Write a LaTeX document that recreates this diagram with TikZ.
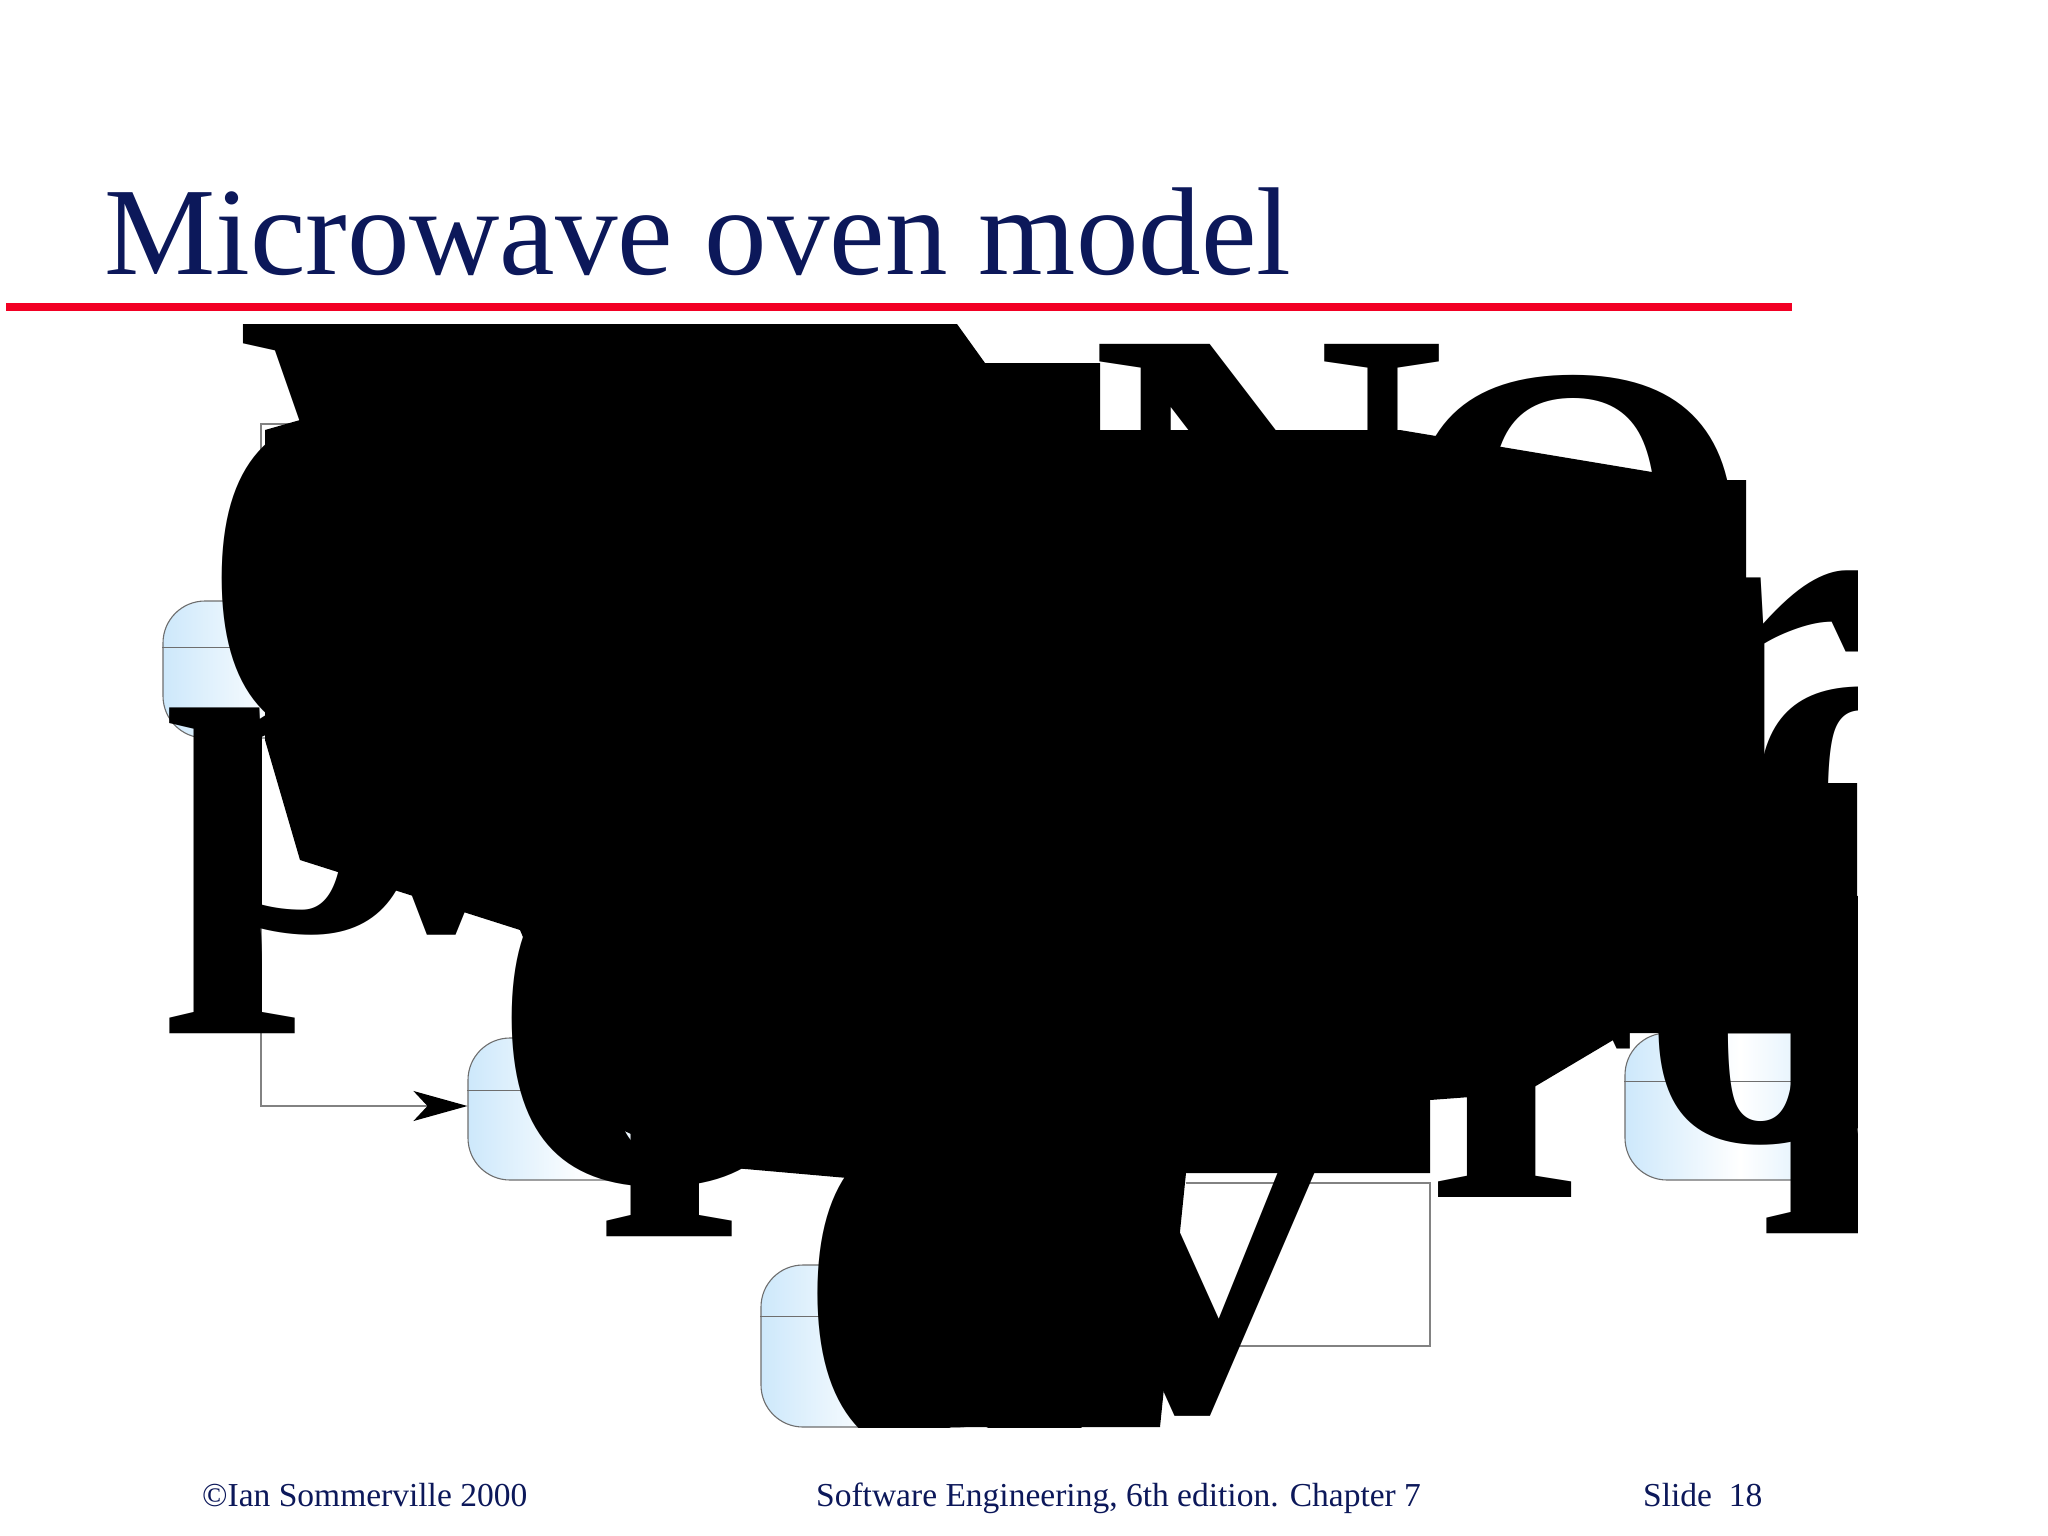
\documentclass[tikz,border=0pt]{standalone}
\usepackage{fontspec}
\setmainfont{Liberation Serif}
\usetikzlibrary{arrows.meta}
\definecolor{navy}{RGB}{12,24,90}
\definecolor{slidered}{RGB}{242,0,36}
\definecolor{stateblue}{RGB}{205,232,251}
\definecolor{edgegrey}{RGB}{110,110,110}
\definecolor{conngrey}{RGB}{130,130,130}
\tikzset{
  statebox/.style={draw=edgegrey, line width=1.1pt, rounded corners=42pt, left color=stateblue, right color=stateblue, middle color=white, inner sep=0pt},
  divider/.style={draw=edgegrey, line width=1.1pt},
  conn/.style={draw=conngrey, line width=1.5pt},
  tipped/.style={-{Stealth[length=54pt,width=30pt,inset=14pt,color=black]}},
  glyph/.style={anchor=base west, inner sep=0pt, text=black},
  titletext/.style={anchor=base west, inner sep=0pt, text=navy, font=\fontsize{125}{125}\selectfont},
  foottext/.style={anchor=base west, inner sep=0pt, text=navy, font=\fontsize{33.5}{33.5}\selectfont},
}
\newcommand\hugeg[1]{\fontsize{#1}{#1}\selectfont\bfseries}
\begin{document}
\begin{tikzpicture}[x=1pt,y=-1pt]
\useasboundingbox (0,0) rectangle (2048,1536);
\fill[white] (0,0) rectangle (2048,1536);
% states
\node[statebox, minimum width=240pt, minimum height=137pt] (waiting) at (283,669.5) {};
\node[statebox, minimum width=240pt, minimum height=150pt] (fullpower) at (695,424) {};
\node[statebox, minimum width=240pt, minimum height=142pt] (halfpower) at (588,1109) {};
\node[statebox, minimum width=240pt, minimum height=150pt] (settime) at (1465,715) {};
\node[statebox, minimum width=240pt, minimum height=162pt] (disabled) at (881,1346) {};
\node[statebox, minimum width=230pt, minimum height=147pt] (operation) at (1740,1106.5) {};
\foreach \s/\d in {waiting/47,fullpower/50,halfpower/53,settime/50,disabled/52,operation/49}{
  \draw[divider] ([yshift=-\d pt]\s.north west) -- ([yshift=-\d pt]\s.north east);
}
% connectors
\draw[conn, tipped] ([xshift=-22pt]waiting.north) |- (fullpower.west);
\draw[conn, tipped] ([xshift=-22pt]waiting.south) |- ([yshift=3pt]halfpower.west);
\coordinate (c3) at (1186,1183);
\draw[conn, tipped] (c3) -- ++(244,0) |- (disabled.east);
% oversized glyphs, clipped to the diagram frame
\begin{scope}
\clip (162,324) rectangle (1857,1427);
\fill[black] (300,324) -- (957,324) -- (985,363) -- (1100,363) -- (1100,430) -- (1400,430)
  -- (1700,480) -- (1746,480) -- (1746,783) -- (1857,783) -- (1857,1033) -- (1625,1033)
  -- (1524,1093) -- (1430,1100) -- (1430,1173) -- (1186,1173) -- (1160,1427) -- (930,1427)
  -- (900,1300) -- (870,1180) -- (700,1165) -- (600,1120) -- (520,930) -- (300,860)
  -- (265,740) -- (265,430) -- (300,420) -- cycle;
\node[glyph, font=\hugeg{560}] (g1) at (235,690) {W};
\node[glyph, font=\hugeg{492}] (g3) at (1090,666) {N};
\node[glyph, font=\hugeg{470}] (g4) at (1390,686) {O};
\node[glyph, font=\hugeg{485}] (g5) at (1654,800) {r};
\node[glyph, font=\hugeg{485}] (g6) at (1740,915) {o};
\node[glyph, font=\hugeg{485}] (g7) at (163,930) {p};
\node[glyph, font=\hugeg{485}] (g8) at (330,930) {w};
\node[glyph, font=\hugeg{700}] (g9) at (195,740) {o};
\node[glyph, font=\hugeg{700}] (g10) at (485,1180) {o};
\node[glyph, font=\hugeg{485}] (g11) at (600,1133) {p};
\node[glyph, font=\hugeg{720}] (g12) at (790,1460) {o};
\node[glyph, font=\hugeg{600}] (g13) at (1040,1410) {v};
\node[glyph, font=\hugeg{485}] (g14) at (1425,1197) {r};
\node[glyph, font=\hugeg{485}] (g15) at (1760,1130) {p};
\node[glyph, font=\hugeg{485}] (g16) at (1640,1140) {o};
\end{scope}
% slide frame
\node[titletext] (title) at (104,274) {Microwave oven model};
\fill[slidered] (6,303) rectangle (1792,311);
\node[foottext] (f1) at (202,1506) {\textcopyright Ian Sommerville 2000};
\node[foottext] (f2) at (816,1506) {Software Engineering, 6th edition. Chapter 7};
\node[foottext] (f3) at (1643,1506) {Slide\ \ 18};
\end{tikzpicture}
\end{document}
